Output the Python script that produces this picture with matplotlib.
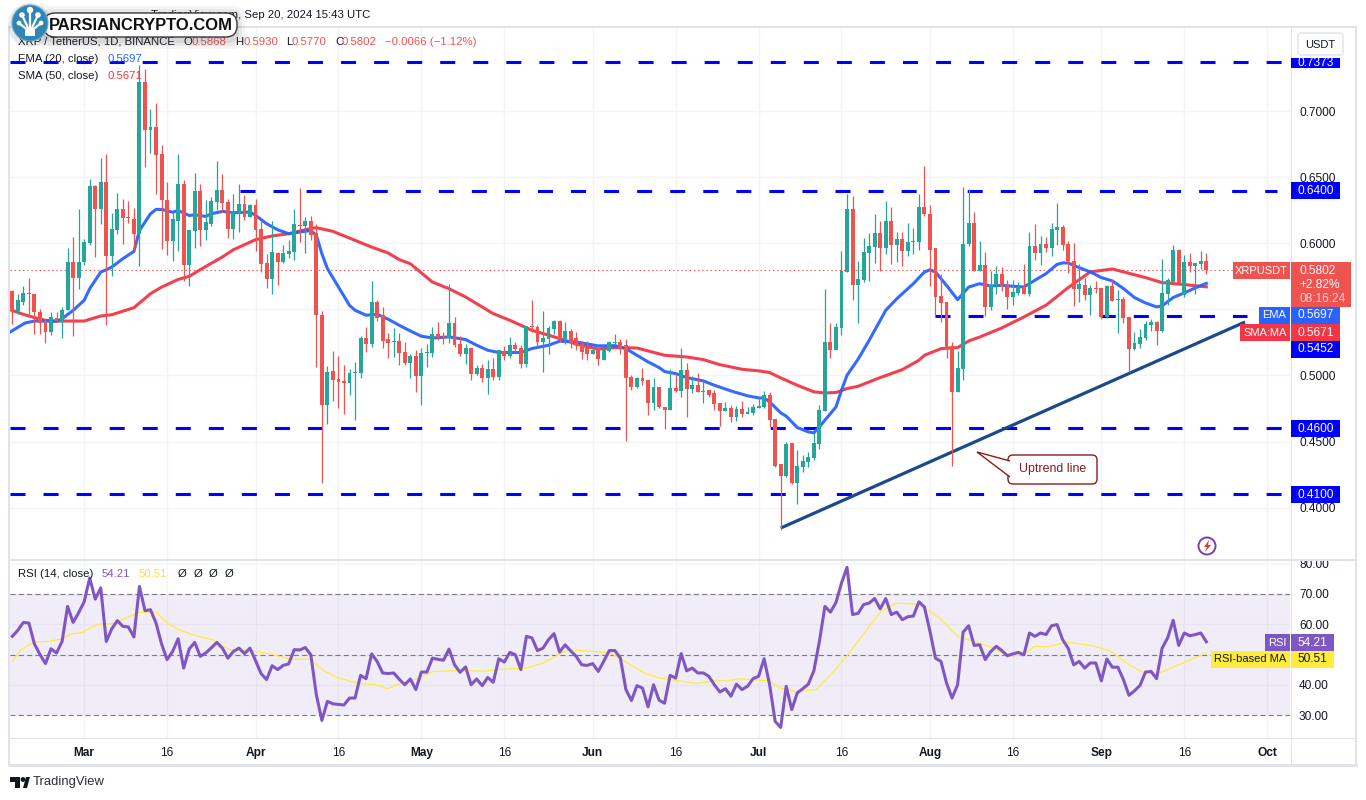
import matplotlib
matplotlib.use('Agg')
import matplotlib.pyplot as plt
from matplotlib.patches import Rectangle, FancyBboxPatch, Circle, Polygon

plt.rcParams['font.family'] = ['Liberation Sans', 'DejaVu Sans']
plt.rcParams['lines.scale_dashes'] = False

# daily candles, first one is Feb 17 2024, last one Sep 20 2024
opens = [
    .5637, .5488, .5554, .5621, .5614, .5480, .5410, .5329, .5438, .5405,
    .5493, .5856, .5735, .5856, .6000, .6435, .6257, .6468, .5901, .6105,
    .6262, .6196, .6186, .6070, .7224, .6861, .6884, .6680, .6332, .6015,
    .6173, .6446, .5836, .6090, .6393, .6098, .6149, .6310, .6401, .6310,
    .6106, .6229, .6295, .6197, .6287, .6106, .5849, .5728, .5925, .5856,
    .5917, .5932, .6136, .6129, .6166, .6076, .5461, .4775, .5032, .4972,
    .4957, .4942, .5017, .5017, .5282, .5237, .5554, .5456, .5274, .5252,
    .5259, .5176, .5093, .5146, .4995, .5168, .5168, .5312, .5297, .5282,
    .5395, .5237, .5161, .5206, .5010, .5055, .4980, .5048, .4987, .5184,
    .5146, .5229, .5206, .5085, .5373, .5365, .5252, .5274, .5350, .5410,
    .5267, .5335, .5282, .5237, .5206, .5161, .5199, .5120, .5183, .5244,
    .5251, .5229, .4987, .4911, .4979, .4964, .4790, .4911, .4760, .4737,
    .4904, .4881, .5040, .4896, .4926, .4873, .4888, .4866, .4790, .4730,
    .4752, .4684, .4745, .4707, .4715, .4752, .4760, .4851, .4669, .4329,
    .4238, .4488, .4185, .4306, .4344, .4374, .4480, .4729, .5251, .5191,
    .5357, .5780, .6257, .5682, .5720, .5924, .5969, .6075, .5962, .6173,
    .5984, .6030, .5939, .6007, .6007, .6272, .6226, .5962, .5599, .5554,
    .5221, .4873, .5047, .5992, .6158, .5788, .5833, .5516, .5682, .5766,
    .5683, .5592, .5622, .5668, .5615, .5978, .5925, .5993, .5963, .6099,
    .6121, .5993, .5864, .5653, .5683, .5607, .5660, .5660, .5441, .5675,
    .5569, .5577, .5441, .5199, .5237, .5282, .5380, .5403, .5335, .5615,
    .5705, .5947, .5607, .5857, .5826, .5842, .5868,
]
highs = [
    .5649, .5619, .5674, .5740, .5619, .5506, .5430, .5480, .5480, .5518,
    .5967, .6052, .6257, .6035, .6488, .6443, .6647, .6677, .6231, .6385,
    .6337, .6317, .6269, .7350, .7320, .7018, .7063, .6748, .6468, .6231,
    .6677, .6483, .6103, .6534, .6446, .6325, .6350, .6620, .6522, .6338,
    .6371, .6446, .6363, .6295, .6333, .6174, .5922, .6166, .5932, .5985,
    .6023, .6257, .6421, .6199, .6204, .6149, .5486, .5070, .5184, .5146,
    .5078, .5048, .5100, .5297, .5365, .5713, .5569, .5516, .5320, .5358,
    .5320, .5252, .5166, .5191, .5206, .5237, .5365, .5403, .5327, .5695,
    .5441, .5297, .5237, .5206, .5078, .5085, .5116, .5131, .5191, .5221,
    .5289, .5252, .5229, .5373, .5569, .5380, .5486, .5373, .5418, .5418,
    .5403, .5350, .5327, .5259, .5259, .5214, .5206, .5211, .5259, .5317,
    .5274, .5274, .5002, .4987, .5055, .4964, .4979, .4911, .4760, .5047,
    .5002, .5206, .5093, .4994, .5017, .4964, .4888, .4888, .4790, .4798,
    .4775, .4767, .4805, .4760, .4783, .4843, .4881, .4873, .4669, .4329,
    .4495, .4488, .4435, .4397, .4419, .4561, .4775, .5652, .5395, .5395,
    .5939, .6370, .6362, .5863, .6037, .6075, .6219, .6166, .6317, .6279,
    .6083, .6083, .6151, .6120, .6370, .6582, .6294, .5962, .5770, .5554,
    .5251, .5183, .6430, .6415, .6241, .6015, .5931, .5788, .5826, .5819,
    .5721, .5721, .5705, .5842, .6083, .6144, .6053, .6046, .6152, .6303,
    .6136, .6015, .6000, .5842, .5736, .5683, .5713, .5660, .5683, .5721,
    .5645, .5592, .5441, .5327, .5350, .5411, .5426, .5411, .5879, .5736,
    .5985, .5955, .5910, .5925, .5849, .5940, .5930,
]
lows = [
    .5392, .5468, .5531, .5468, .5317, .5317, .5246, .5304, .5405, .5284,
    .5493, .5296, .5657, .5833, .5984, .5896, .6148, .5380, .5750, .6068,
    .5992, .6153, .5947, .5826, .6577, .6682, .6375, .5957, .5909, .5866,
    .5942, .5715, .5677, .5964, .5979, .6023, .6129, .6255, .6237, .6043,
    .6030, .6086, .6174, .6197, .5940, .5781, .5660, .5615, .5683, .5849,
    .5887, .5872, .6008, .5925, .6023, .5065, .4188, .4632, .4806, .4753,
    .4707, .4851, .4662, .4979, .5176, .5216, .5410, .5206, .5131, .5138,
    .5078, .5078, .4980, .4874, .4775, .5063, .5138, .5267, .5237, .5244,
    .5214, .5146, .5085, .4964, .5002, .4949, .4859, .4964, .4964, .5116,
    .5131, .5176, .5055, .5063, .5327, .5221, .5025, .5161, .5312, .5252,
    .5237, .5206, .5191, .5123, .5116, .5161, .5078, .5115, .5176, .5236,
    .5161, .4503, .4888, .4904, .4926, .4699, .4737, .4752, .4594, .4737,
    .4873, .4835, .4684, .4866, .4873, .4790, .4835, .4737, .4616, .4730,
    .4647, .4654, .4684, .4707, .4699, .4752, .4752, .4609, .4306, .3830,
    .4231, .4178, .4027, .4271, .4306, .4359, .4442, .4729, .5130, .5304,
    .5304, .5780, .5569, .5395, .5705, .5712, .5848, .5788, .5916, .5841,
    .5856, .5826, .5901, .5916, .5947, .6211, .5674, .5443, .5402, .5130,
    .4314, .4873, .4964, .5977, .5788, .5788, .5448, .5493, .5619, .5637,
    .5501, .5532, .5607, .5615, .5600, .5872, .5834, .5932, .5902, .5985,
    .5947, .5774, .5524, .5554, .5569, .5456, .5622, .5426, .5433, .5562,
    .5320, .5396, .5025, .5191, .5207, .5267, .5335, .5229, .5327, .5532,
    .5690, .5690, .5592, .5781, .5615, .5804, .5770,
]
closes = [
    .5488, .5569, .5624, .5614, .5478, .5397, .5327, .5443, .5410, .5498,
    .5856, .5735, .5861, .6007, .6435, .6257, .6468, .5901, .6110, .6262,
    .6191, .6191, .6070, .7224, .6861, .6884, .6672, .6325, .6015, .6181,
    .6446, .5836, .6098, .6400, .6100, .6161, .6318, .6401, .6303, .6106,
    .6242, .6295, .6197, .6287, .6098, .5841, .5728, .5932, .5856, .5925,
    .5940, .6144, .6129, .6166, .6061, .5456, .4775, .5025, .4964, .4949,
    .4942, .5017, .5025, .5282, .5237, .5554, .5433, .5259, .5244, .5259,
    .5169, .5093, .5146, .4995, .5168, .5176, .5312, .5282, .5289, .5395,
    .5229, .5161, .5206, .5010, .5055, .4980, .5048, .4987, .5191, .5146,
    .5229, .5199, .5085, .5373, .5365, .5252, .5282, .5358, .5410, .5274,
    .5335, .5244, .5229, .5176, .5161, .5191, .5123, .5196, .5251, .5251,
    .5203, .4979, .4911, .4979, .4956, .4790, .4911, .4760, .4737, .4904,
    .4881, .5040, .4896, .4926, .4873, .4881, .4851, .4783, .4730, .4752,
    .4684, .4745, .4707, .4722, .4760, .4767, .4851, .4662, .4314, .4238,
    .4480, .4185, .4314, .4351, .4382, .4488, .4737, .5251, .5191, .5364,
    .5788, .6257, .5682, .5727, .5931, .5977, .6075, .5962, .6173, .5984,
    .6030, .5939, .6007, .6015, .6272, .6219, .5947, .5591, .5546, .5203,
    .4873, .5054, .5992, .6158, .5788, .5833, .5516, .5682, .5765, .5675,
    .5592, .5630, .5668, .5615, .5978, .5925, .5993, .5963, .6106, .6121,
    .5985, .5864, .5653, .5690, .5607, .5660, .5653, .5441, .5675, .5562,
    .5577, .5433, .5199, .5244, .5290, .5388, .5403, .5335, .5622, .5721,
    .5947, .5698, .5857, .5826, .5849, .5864, .5802,
]

ema_days = [
    -0.4, 2.3, 4, 6, 8, 9, 11, 13, 14, 16, 17, 18, 20, 22, 23, 25, 26, 27, 29, 30, 32, 33, 35,
    36, 38, 40, 43, 44, 46, 48, 50, 52, 54, 55, 56, 57, 59, 61, 62, 64, 66, 68, 70,
    72, 74, 76, 79, 82, 84, 86, 88, 92, 94, 97, 99, 102, 106,
    109, 111, 113, 115, 117, 118, 120, 122, 125, 127, 130, 133, 135, 136, 137, 139, 140, 142,
    144, 145, 146, 149, 150, 151, 153, 155, 157, 158, 160, 163, 165, 166, 167, 169, 171, 173, 175, 177, 179,
    181, 183, 185, 187, 189, 190, 191, 193, 195, 197, 199, 201, 203, 205, 207, 208, 210, 212, 214, 216,
]
ema_vals = [
    .5329, .5397, .5412, .5412, .5410, .5430, .5493, .5569, .5657, .5783, .5800, .5821, .5884, .5939, .6098, .6224, .6257, .6257, .6236, .6249, .6211, .6216, .6204,
    .6224, .6242, .6232, .6237, .6212, .6149, .6103, .6073, .6086, .6098, .6061, .5922, .5809, .5670, .5531, .5494, .5456, .5463, .5426, .5380,
    .5337, .5297, .5284, .5292, .5272, .5229, .5191, .5174, .5174, .5204, .5229, .5259, .5254, .5224,
    .5226, .5203, .5153, .5103, .5060, .5030, .5014, .4984, .4959, .4926, .4883, .4846, .4830, .4830, .4800, .4717, .4692, .4606,
    .4573, .4566, .4611, .4762, .4888, .5002, .5123, .5266, .5417, .5493, .5581, .5695, .5783, .5800, .5783, .5682, .5574, .5669, .5695, .5677, .5683,
    .5675, .5670, .5721, .5771, .5841, .5852, .5852, .5816, .5784, .5741, .5716, .5658, .5590, .5549, .5519, .5527, .5590, .5625, .5663, .5697,
]
sma_days = [
    -0.4, 2, 4, 6, 8, 13, 16, 18, 22, 25, 27, 30, 32, 34, 38, 40, 44, 47, 50, 53, 55, 58, 61, 65, 68, 70,
    72, 76, 79, 82, 87, 90, 94, 97, 100, 102, 106, 109, 113, 115, 118, 122, 125, 128, 132, 135, 137, 139, 142,
    145, 147, 149, 151, 153, 157, 161, 164, 165, 168, 171, 173, 175, 179,
    183, 187, 191, 195, 199, 201, 205, 208, 212, 216,
]
sma_vals = [
    .5498, .5463, .5438, .5417, .5412, .5412, .5450, .5460, .5513, .5619, .5669, .5727, .5750, .5801, .5897, .5952, .6028, .6056, .6073, .6103, .6119, .6091, .6040, .5972, .5927, .5877,
    .5846, .5707, .5657, .5594, .5468, .5418, .5342, .5305, .5267, .5237, .5200, .5211, .5208, .5186, .5153, .5140, .5120, .5082, .5047, .5035, .5022, .4982, .4926,
    .4876, .4868, .4871, .4901, .4918, .4984, .5044, .5115, .5153, .5203, .5211, .5261, .5291, .5360,
    .5443, .5532, .5665, .5784, .5806, .5784, .5741, .5703, .5688, .5671,
]

# RSI, one value per candle
rsi_vals = [
    56.0, 58.0, 60.6, 60.4, 53.5, 50.0, 47.0, 51.9, 50.5, 54.3,
    65.9, 60.6, 63.8, 67.4, 75.3, 68.3, 72.0, 54.3, 58.5, 61.2,
    59.3, 59.1, 55.8, 72.5, 64.5, 64.8, 60.4, 53.5, 48.3, 51.0,
    55.2, 45.5, 51.8, 54.0, 49.4, 50.5, 52.2, 54.0, 52.1, 48.8,
    51.0, 52.1, 50.3, 52.1, 48.0, 43.7, 41.7, 46.3, 45.0, 46.4,
    46.9, 51.6, 51.5, 52.3, 49.9, 36.7, 28.2, 34.5, 33.7, 33.5,
    33.3, 35.6, 35.6, 43.1, 42.0, 50.2, 47.7, 43.9, 43.7, 43.9,
    41.8, 40.0, 41.9, 38.4, 44.2, 44.2, 48.8, 48.4, 48.1, 51.8,
    46.6, 44.1, 45.9, 40.0, 41.9, 39.7, 42.4, 40.8, 48.6, 47.5,
    50.7, 49.9, 45.0, 56.0, 55.5, 51.3, 52.1, 54.9, 56.9, 50.8,
    53.2, 51.2, 49.4, 46.6, 46.4, 47.0, 44.4, 47.8, 51.3, 51.3,
    48.8, 38.4, 34.8, 39.7, 38.9, 32.7, 40.0, 34.9, 33.9, 43.1,
    42.2, 50.3, 44.6, 45.5, 43.9, 43.9, 42.8, 40.0, 37.6, 38.7,
    36.2, 40.2, 38.4, 39.5, 42.0, 42.8, 48.6, 40.0, 27.9, 25.9,
    39.5, 31.8, 37.3, 38.7, 40.2, 44.6, 54.3, 65.9, 64.0, 67.2,
    73.6, 78.8, 63.2, 63.6, 66.5, 67.0, 68.5, 65.1, 68.5, 63.2,
    64.0, 61.5, 62.5, 62.7, 67.4, 65.7, 57.7, 48.8, 47.7, 40.6,
    35.6, 40.0, 57.4, 59.5, 53.0, 53.2, 48.3, 51.0, 52.7, 51.3,
    49.6, 50.2, 50.7, 49.9, 57.1, 56.0, 57.1, 56.6, 59.5, 59.9,
    54.9, 52.1, 46.6, 47.7, 45.5, 47.2, 47.2, 41.3, 48.5, 45.8,
    45.8, 41.7, 36.5, 38.0, 39.8, 44.2, 44.4, 42.0, 52.1, 55.5,
    61.3, 53.0, 57.1, 56.2, 56.6, 57.1, 54.21,
]
rsi_ma_days = [
    0, 1.6, 3.9, 6.2, 9, 10.7, 12.8, 14.2, 16, 18, 20.6, 22.9, 26, 28.2, 30.5, 33.6, 36.2, 39.3, 42.7,
    46.5, 50.3, 53.8, 56.4, 59.1, 62.5, 65.6, 67.9, 70.5, 73.2, 76.2, 80.8, 85.4, 89.2, 93, 96, 100.6,
    105.2, 108.2, 111.3, 114.3, 117.2, 120.5, 123.8, 127, 129.5, 131.5, 136.8, 138.9, 141.7, 145.4, 147.8,
    150.7, 153.9, 157.2, 160, 164.1, 167.8, 171, 174.3, 177.6, 180, 182.9, 184.9, 187.3, 190.6, 195.5,
    198.8, 202, 204.5, 207, 211, 216,
]
rsi_ma_vals = [
    47.7, 51.6, 54.1, 54.3, 55.1, 56.8, 57.3, 59.0, 60.1, 60.1, 62.1, 63.9, 64.0, 60.1, 57.9, 56.0, 54.9, 51.6, 51.3,
    50.3, 48.4, 48.5, 44.6, 42.2, 40.5, 40.0, 38.7, 40.6, 42.0, 44.4, 44.7, 44.5, 45.2, 45.5, 47.2, 51.6,
    51.0, 50.5, 47.2, 43.9, 42.2, 41.3, 40.4, 41.3, 41.3, 42.0, 41.3, 38.9, 37.8, 38.4, 42.8,
    48.8, 56.6, 64.3, 67.0, 66.5, 62.0, 56.0, 54.1, 52.1, 49.4, 49.9, 52.7, 52.5, 54.1, 52.9,
    51.0, 46.6, 44.2, 43.5, 46.6, 50.51,
]

# axes labels
tick_days = [13, 28, 44, 59, 74, 89, 105, 120, 135, 150, 166, 181, 197, 212, 227]
tick_names = ['Mar', '16', 'Apr', '16', 'May', '16', 'Jun', '16', 'Jul', '16', 'Aug', '16', 'Sep', '16', 'Oct']
price_ticks = [.40, .45, .50, .55, .60, .65, .70]
price_tick_names = ['0.4000', '0.4500', '0.5000', '', '0.6000', '0.6500', '0.7000']
rsi_ticks = [30, 40, 50, 60, 70, 80]
rsi_tick_names = ['30.00', '40.00', '', '60.00', '70.00', '80.00']

# horizontal levels drawn on the chart, first candle they start from
level_prices = [.7373, .6400, .5452, .4600, .4100]
level_starts = [-0.42, 41.2, 166.9, -0.42, -0.42]
level_ends = [229.7, 228.7, 223.4, 229.7, 229.7]
trend_days = [139, 223]
trend_prices = [.3845, .5405]

W, H = 1366, 800
PX = 5.528           # pixels per day
X0 = 12.3            # pixel of the first candle
BLUE = '#0000ff'
GREEN = '#26a69a'
RED = '#ef5350'
EMA_COL = '#2962ff'
SMA_COL = '#f23645'
RSI_COL = '#7e57c2'
YEL = '#ffeb3b'
GRID = '#f3f4f7'
FRAME = '#e0e3eb'
INK = '#131722'


def pane(left, top, right, bottom):
    return fig.add_axes([left / W, 1 - bottom / H, (right - left) / W, (bottom - top) / H])


fig = plt.figure(figsize=(W / 100, H / 100), dpi=100, facecolor='white')
ax = pane(10, 27, 1290, 559)
ax2 = pane(10, 561, 1290, 738)
over = fig.add_axes([0, 0, 1, 1], zorder=10)
over.set_xlim(0, W)
over.set_ylim(H, 0)
over.axis('off')
over.patch.set_alpha(0)

xlim = ((10 - X0) / PX, (1290 - X0) / PX)
for a in (ax, ax2):
    a.set_xlim(xlim)
    a.set_xticks(tick_days)
    a.grid(True, color=GRID, lw=1)
    a.set_axisbelow(True)
    a.yaxis.tick_right()
    for s in a.spines.values():
        s.set_visible(False)
ax.set_ylim(.7373 - 497 / 1321, .7373 + 35 / 1321)
ax.set_yticks(price_ticks)
ax.set_yticklabels(price_tick_names)
ax.tick_params(axis='x', length=0, labelbottom=False)
ax.tick_params(axis='y', length=0, pad=6.5, labelsize=8.6, labelcolor=INK)

# blue levels, trend line, averages, then the candles on top
for p, s, e in zip(level_prices, level_starts, level_ends):
    ax.plot([s, e], [p, p], color=BLUE, lw=2.2, ls=(0, (10.8, 13)), dash_capstyle='butt', zorder=2)
ax.plot(trend_days, trend_prices, color='#1b4a8a', lw=2.3, zorder=2, solid_capstyle='butt')
ax.axhline(closes[-1], color=RED, lw=0.8, ls=(0, (1, 2)), zorder=2)
ax.plot(sma_days, sma_vals, color=SMA_COL, lw=2.2, alpha=.95, zorder=3)
ax.plot(ema_days, ema_vals, color=EMA_COL, lw=2.2, alpha=.95, zorder=3)

days = list(range(len(opens)))
colors = [GREEN if c >= o else RED for o, c in zip(opens, closes)]
ax.vlines(days, lows, highs, colors=colors, lw=0.9, zorder=4)
ax.bar(days, [max(abs(c - o), .0008) for o, c in zip(opens, closes)], bottom=[min(o, c) for o, c in zip(opens, closes)],
       width=3.9 / PX, color=colors, zorder=5, lw=0)

# rsi pane
ax2.set_ylim(30 - 23 / 3.025, 70 + 33 / 3.025)
ax2.set_yticks(rsi_ticks)
ax2.set_yticklabels(rsi_tick_names)
ax2.set_xticklabels(tick_names)
ax2.tick_params(axis='x', length=0, pad=6.5, labelsize=8.6, labelcolor=INK)
ax2.tick_params(axis='y', length=0, pad=6.5, labelsize=8.6, labelcolor=INK)
for lab, name in zip(ax2.get_xticklabels(), tick_names):
    if name != '16':
        lab.set_fontweight('bold')
ax2.axhspan(30, 70, color=RSI_COL, alpha=.1, lw=0, zorder=1)
for lvl in (30, 50, 70):
    ax2.axhline(lvl, color='#787b86', lw=0.8, ls=(0, (3.6, 2.4)), zorder=2)
ax2.plot(rsi_ma_days, rsi_ma_vals, color=YEL, lw=0.9, zorder=3)
ax2.plot(days, rsi_vals, color=RSI_COL, lw=2.2, zorder=4)


def box(x0, y0, x1, y1, col, z=2):
    over.add_patch(Rectangle((x0, y0), x1 - x0, y1 - y0, fc=col, ec='none', zorder=z))


def txt(x, y, s, col=INK, ha='left', size=8.2, z=3, **kw):
    over.text(x, y, s, color=col, ha=ha, va='center', fontsize=size, zorder=z, **kw)


# frame around the panes
frame_lines = [
    ([9, 9], [27, 765], 2), ([9, 1356], [27, 27], 2), ([9, 1356], [765, 765], 3), ([1356, 1356], [27, 765], 2),
    ([9, 1356], [560, 560], 2), ([9, 1356], [738, 738], 1), ([1290.5, 1290.5], [27, 765], 1),
]
for xs, ys, w in frame_lines:
    over.plot(xs, ys, color=FRAME, lw=w * .72, zorder=1)

# price scale labels
for p, name in zip([.7373, .6400, .4600, .4100], ['0.7373', '0.6400', '0.4600', '0.4100']):
    y = 62 + (.7373 - p) * 1321
    if name == '0.7373':
        box(1291, 58, 1340, 68, BLUE)
    else:
        box(1291, y - 8.5, 1340, y + 8.5, BLUE)
    txt(1315.5, y + .5, name, 'white', 'center', 8.6)
box(1291, 341, 1340, 358, BLUE)
txt(1315.5, 349.5, '0.5452', 'white', 'center', 8.6)

box(1233, 262, 1290, 279, RED)
txt(1261.5, 270.5, 'XRPUSDT', 'white', 'center', 8.0)
box(1291, 262, 1351, 307, RED)
txt(1299, 270.5, '0.5802', 'white', size=8.6)
txt(1299, 285, '+2.82%', 'white', size=8.6)
txt(1299, 298.5, '08:16:24', '#fbd0cf', size=8.6)

box(1259, 307, 1290, 324, EMA_COL)
txt(1274.5, 315.5, 'EMA', 'white', 'center', 8.0)
box(1291, 307, 1340, 324, EMA_COL)
txt(1315.5, 315.5, '0.5697', 'white', 'center', 8.6)
box(1240, 324, 1290, 341, SMA_COL)
txt(1265, 332.5, 'SMA:MA', 'white', 'center', 8.0)
box(1291, 324, 1340, 341, SMA_COL)
txt(1315.5, 332.5, '0.5671', 'white', 'center', 8.6)

box(1265, 634, 1290, 651, RSI_COL)
txt(1277.5, 642.5, 'RSI', 'white', 'center', 8.0)
box(1291, 634, 1334, 651, RSI_COL)
txt(1312.5, 642.5, '54.21', 'white', 'center', 8.6)
box(1211, 651, 1290, 668, YEL)
txt(1250.5, 659.5, 'RSI-based MA', INK, 'center', 8.0)
box(1291, 651, 1334, 668, YEL)
txt(1312.5, 659.5, '50.51', INK, 'center', 8.6)

# USDT button
over.add_patch(FancyBboxPatch((1298, 33), 45, 22, boxstyle='round,pad=0,rounding_size=3', fc='white', ec=FRAME, lw=1, zorder=4))
txt(1320.5, 44.5, 'USDT', INK, 'center', 8.0, z=5)

# legend
txt(370, 15, 'TradingView.com, Sep 20, 2024 15:43 UTC', INK, 'right', 8.2)
txt(18, 42, 'XRP / TetherUS, 1D, BINANCE', INK)
for x, s, col in [(184, 'O', INK), (192, '0.5868', RED), (235, 'H', INK), (243, '0.5930', RED), (286, 'L', INK), (292, '0.5770', RED),
                  (335, 'C', INK), (342, '0.5802', RED), (385, '\u22120.0066 (\u22121.12%)', RED)]:
    txt(x, 42, s, col)
txt(18, 59, 'EMA (20, close)')
txt(108, 59, '0.5697', EMA_COL)
txt(18, 76, 'SMA (50, close)')
txt(107, 76, '0.5671', SMA_COL)
txt(18, 574, 'RSI (14, close)')
txt(102, 574, '54.21', RSI_COL)
txt(139, 574, '50.51', '#f5e042')
for x in (178, 194, 209, 225):
    txt(x, 574, '\u00d8')

# uptrend callout
over.add_patch(FancyBboxPatch((1008, 455), 89, 29, boxstyle='round,pad=0,rounding_size=5', fc='white', ec='#8b1a1a', lw=1, zorder=5))
over.add_patch(Polygon([(1010, 461), (977, 452), (1010, 477)], closed=False, fc='white', ec='#8b1a1a', lw=1, zorder=6))
txt(1052.5, 469, 'Uptrend line', '#8b1a1a', 'center', 8.9, z=7)

# small event icon
over.add_patch(Circle((1207, 546), 8.5, fc='white', ec='#7e3fa8', lw=1.4, zorder=4))
over.add_patch(Polygon([(1209, 540), (1204, 547), (1207, 547), (1205, 552), (1211, 545), (1208, 545)], fc='#e53935', ec='none', zorder=5))

# watermark on the top left
for grow, alpha in [(9, .05), (6, .07), (3, .1)]:
    over.add_patch(FancyBboxPatch((45 - grow, 13 - grow + 2), 191 + 2 * grow, 25 + 2 * grow, boxstyle='round,pad=0,rounding_size=12',
                                  fc='#444444', ec='none', alpha=alpha, zorder=6))
over.add_patch(Circle((30, 25), 22, fc='#444444', ec='none', alpha=.12, zorder=6))
over.add_patch(FancyBboxPatch((44, 13), 193, 24, boxstyle='round,pad=0,rounding_size=11', fc='white', ec='#3a3a3a', lw=1, zorder=7))
txt(49, 25.5, 'PARSIANCRYPTO.COM', '#111111', size=11.9, z=8, fontweight='bold')
over.add_patch(Circle((30, 23), 18, fc='#2f86b5', ec='#6aa9cc', lw=.8, zorder=9))
for sx, sy, ex, ey, r in [(30, 32, 30, 10, 3.2), (30, 32, 22, 15, 2.8), (30, 32, 38, 15, 2.8), (30, 32, 19, 23, 2.4), (30, 32, 41, 23, 2.4)]:
    over.plot([sx, ex], [sy, ey], color='white', lw=1.6, zorder=10)
    over.add_patch(Circle((ex, ey), r, fc='white', ec='none', zorder=10))
over.add_patch(Rectangle((25, 30), 10, 6, fc='white', ec='none', zorder=10))

# TradingView mark at the bottom
over.add_patch(Polygon([(10, 777), (20, 777), (20, 788), (15, 788), (15, 782), (10, 782)], fc=INK, ec='none'))
over.add_patch(Circle((23, 779.5), 2.4, fc=INK, ec='none'))
over.add_patch(Polygon([(23, 788), (26, 777), (30, 777), (27, 788)], fc=INK, ec='none'))
txt(33, 782.5, 'TradingView', '#2a2e39', size=9.4)

over.set_xlim(0, W)
over.set_ylim(H, 0)
fig.savefig('out.png', dpi=100)
